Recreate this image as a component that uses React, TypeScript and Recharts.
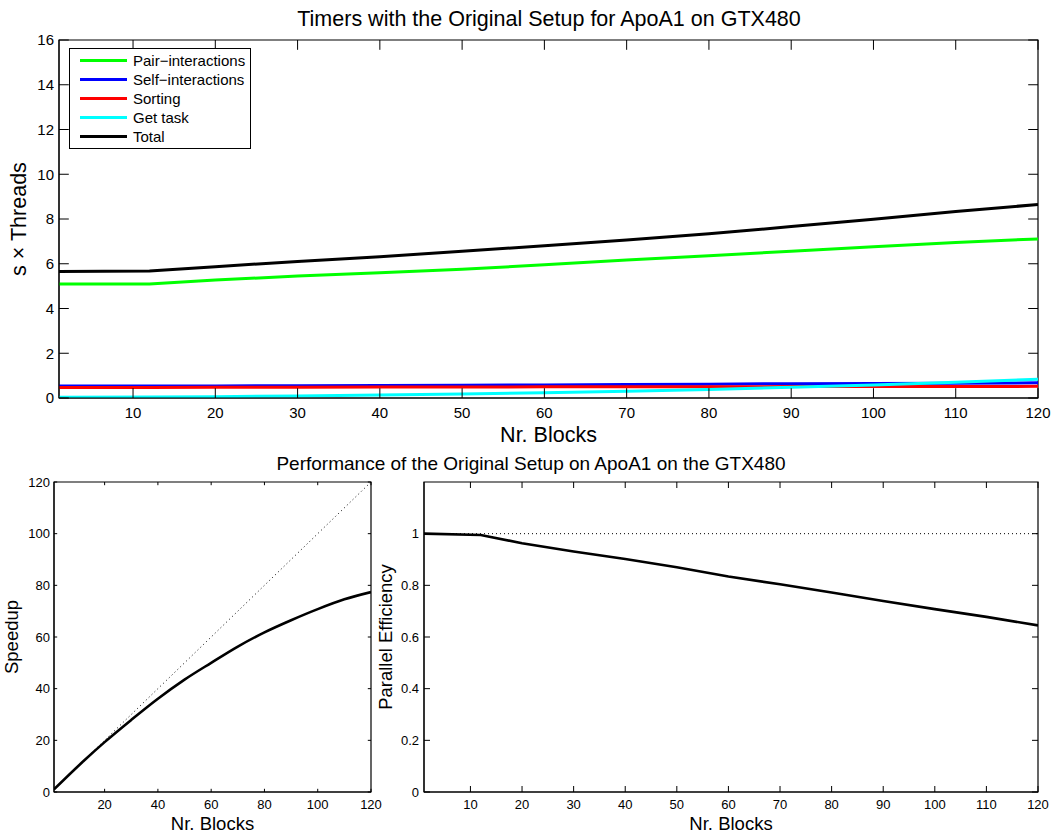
import React from "react";
import { LineChart, Line, XAxis, YAxis, Legend, ReferenceArea } from "recharts";

const FONT = '"Liberation Sans", Arial, Helvetica, sans-serif';

// block counts at which the timers were read
const blocks = [1, 12, 20, 30, 40, 50, 60, 70, 80, 90, 100, 110, 120];

// top panel: s x Threads
const seriesNames = ["Pair−interactions", "Self−interactions", "Sorting", "Get task", "Total"];
const pairInteractions = [5.1, 5.1, 5.27, 5.45, 5.6, 5.75, 5.95, 6.17, 6.36, 6.56, 6.76, 6.95, 7.11];
const selfInteractions = [0.54, 0.54, 0.54, 0.55, 0.56, 0.57, 0.58, 0.6, 0.62, 0.64, 0.65, 0.66, 0.68];
const sorting = [0.47, 0.47, 0.48, 0.48, 0.49, 0.49, 0.5, 0.5, 0.5, 0.51, 0.51, 0.51, 0.52];
const getTask = [0.03, 0.04, 0.06, 0.09, 0.13, 0.18, 0.23, 0.3, 0.38, 0.48, 0.58, 0.7, 0.84];
const total = [5.65, 5.68, 5.87, 6.1, 6.31, 6.56, 6.8, 7.06, 7.34, 7.66, 7.99, 8.33, 8.65];

// bottom panels
const speedup = [1, 11.9, 19.3, 27.9, 36.1, 43.5, 50.0, 56.3, 61.8, 66.5, 70.8, 74.6, 77.4];
const efficiency = [1.0, 0.995, 0.963, 0.931, 0.902, 0.87, 0.834, 0.804, 0.772, 0.739, 0.708, 0.678, 0.645];

// ideal references (dotted)
const idealBlocks = [1, 120];
const idealSpeedup = [1, 120];
const idealEfficiency = [1, 1];

// tick labels
const topXTicks = [10, 20, 30, 40, 50, 60, 70, 80, 90, 100, 110, 120];
const topYTicks = [0, 2, 4, 6, 8, 10, 12, 14, 16];
const speedXTicks = [20, 40, 60, 80, 100, 120];
const speedYTicks = [0, 20, 40, 60, 80, 100, 120];
const effXTicks = [10, 20, 30, 40, 50, 60, 70, 80, 90, 100, 110, 120];
const effYTicks = [0, 0.2, 0.4, 0.6, 0.8, 1];

const timerRows = blocks.map((b, i) => ({
  b,
  pair: pairInteractions[i],
  self: selfInteractions[i],
  sort: sorting[i],
  get: getTask[i],
  total: total[i],
}));
const perfRows = blocks.map((b, i) => ({ b, speedup: speedup[i], eff: efficiency[i] }));
const idealRows = idealBlocks.map((b, i) => ({ b, speedup: idealSpeedup[i], eff: idealEfficiency[i] }));

// MATLAB style: ticks point inward, on both sides of the box
function bottomTick(gap: number, len: number, far: number, size: number) {
  return (p: any) => {
    const ay = p.y - gap;
    return (
      <g>
        <line x1={p.x} x2={p.x} y1={ay} y2={ay - len} stroke="#000" />
        <line x1={p.x} x2={p.x} y1={far} y2={far + len} stroke="#000" />
        <text x={p.x} y={p.y} dy="0.71em" textAnchor="middle" fontSize={size} fontFamily={FONT} fill="#000">
          {String(p.payload.value)}
        </text>
      </g>
    );
  };
}

function leftTick(gap: number, len: number, far: number, size: number) {
  return (p: any) => {
    const ax = p.x + gap;
    return (
      <g>
        <line x1={ax} x2={ax + len} y1={p.y} y2={p.y} stroke="#000" />
        <line x1={far} x2={far - len} y1={p.y} y2={p.y} stroke="#000" />
        <text x={p.x} y={p.y} dy="0.355em" textAnchor="end" fontSize={size} fontFamily={FONT} fill="#000">
          {String(p.payload.value)}
        </text>
      </g>
    );
  };
}

const TimerLegend = (props: any) => {
  const items = [...(props.payload || [])].sort(
    (a: any, b: any) => seriesNames.indexOf(a.value) - seriesNames.indexOf(b.value)
  );
  return (
    <div
      style={{
        width: 180,
        border: "1px solid #000",
        background: "#fff",
        padding: "2px 0",
        fontFamily: FONT,
        fontSize: 15,
        color: "#000",
      }}
    >
      {items.map((e: any) => (
        <div key={e.value} style={{ display: "flex", alignItems: "center", height: 19 }}>
          <div style={{ width: 47, height: 3, background: e.color, marginLeft: 10, marginRight: 6 }} />
          <span style={{ lineHeight: "19px", whiteSpace: "nowrap" }}>{e.value}</span>
        </div>
      ))}
    </div>
  );
};

const labelStyle = (size: number) => ({ fill: "#000", fontSize: size, fontFamily: FONT });

export default function App() {
  return (
    <div style={{ position: "absolute", left: 0, top: 0, width: 1059, height: 834, background: "#fff", fontFamily: FONT }}>
      <div
        style={{
          position: "absolute",
          left: 549,
          top: 8.5,
          transform: "translateX(-50%)",
          whiteSpace: "nowrap",
          fontSize: 21.5,
          lineHeight: "21.5px",
          color: "#000",
        }}
      >
        Timers with the Original Setup for ApoA1 on GTX480
      </div>
      <div
        style={{
          position: "absolute",
          left: 531,
          top: 454,
          transform: "translateX(-50%)",
          whiteSpace: "nowrap",
          fontSize: 19,
          lineHeight: "19px",
          color: "#000",
        }}
      >
        Performance of the Original Setup on ApoA1 on the GTX480
      </div>

      {/* top panel */}
      <div style={{ position: "absolute", left: 0, top: 0 }}>
        <LineChart width={1059} height={450} data={timerRows} margin={{ top: 40, right: 21, bottom: 0, left: 0 }}>
          <XAxis
            dataKey="b"
            type="number"
            domain={[1, 120]}
            ticks={topXTicks}
            interval={0}
            allowDataOverflow
            height={52}
            tickSize={0}
            tickMargin={9}
            tickLine={false}
            axisLine={{ stroke: "#000" }}
            tick={bottomTick(9, 9.8, 40, 15)}
            label={{ value: "Nr. Blocks", position: "insideBottom", offset: 8.5, ...labelStyle(21.5) }}
          />
          <YAxis
            type="number"
            domain={[0, 16]}
            ticks={topYTicks}
            interval={0}
            allowDataOverflow
            width={59}
            tickSize={0}
            tickMargin={5}
            tickLine={false}
            axisLine={{ stroke: "#000" }}
            tick={leftTick(5, 9.8, 1038, 15)}
            label={{
              value: "s × Threads",
              angle: -90,
              position: "insideLeft",
              offset: 18,
              style: { textAnchor: "middle" },
              ...labelStyle(21.5),
            }}
          />
          <ReferenceArea x1={1} x2={120} y1={0} y2={16} fill="none" stroke="#000" strokeWidth={1.2} ifOverflow="visible" />
          <Line name={seriesNames[0]} dataKey="pair" stroke="#00ff00" strokeWidth={3} dot={false} isAnimationActive={false} />
          <Line name={seriesNames[1]} dataKey="self" stroke="#0000ff" strokeWidth={3} dot={false} isAnimationActive={false} />
          <Line name={seriesNames[2]} dataKey="sort" stroke="#ff0000" strokeWidth={3} dot={false} isAnimationActive={false} />
          <Line name={seriesNames[3]} dataKey="get" stroke="#00ffff" strokeWidth={3} dot={false} isAnimationActive={false} />
          <Line name={seriesNames[4]} dataKey="total" stroke="#000000" strokeWidth={3} dot={false} isAnimationActive={false} />
          <Legend
            layout="vertical"
            align="center"
            verticalAlign="middle"
            content={<TimerLegend />}
            wrapperStyle={{ left: 69, top: 48, width: "auto", height: "auto" }}
          />
        </LineChart>
      </div>

      {/* speedup */}
      <div style={{ position: "absolute", left: 0, top: 440 }}>
        <LineChart width={395} height={394} data={perfRows} margin={{ top: 42, right: 24, bottom: 0, left: 0 }}>
          <XAxis
            dataKey="b"
            type="number"
            domain={[1, 120]}
            ticks={speedXTicks}
            interval={0}
            allowDataOverflow
            height={42}
            tickSize={0}
            tickMargin={7.5}
            tickLine={false}
            axisLine={{ stroke: "#000" }}
            tick={bottomTick(7.5, 3.2, 42, 13)}
            label={{ value: "Nr. Blocks", position: "insideBottom", offset: 4, ...labelStyle(18.5) }}
          />
          <YAxis
            type="number"
            domain={[0, 120]}
            ticks={speedYTicks}
            interval={0}
            allowDataOverflow
            width={54}
            tickSize={0}
            tickMargin={4}
            tickLine={false}
            axisLine={{ stroke: "#000" }}
            tick={leftTick(4, 3.2, 371, 13)}
            label={{
              value: "Speedup",
              angle: -90,
              position: "insideLeft",
              offset: 11,
              style: { textAnchor: "middle" },
              ...labelStyle(18.5),
            }}
          />
          <ReferenceArea x1={1} x2={120} y1={0} y2={120} fill="none" stroke="#000" strokeWidth={1.2} ifOverflow="visible" />
          <Line data={idealRows} dataKey="speedup" stroke="#000" strokeWidth={1} strokeDasharray="1 3" dot={false} isAnimationActive={false} />
          <Line type="monotone" dataKey="speedup" stroke="#000" strokeWidth={2.6} dot={false} isAnimationActive={false} />
        </LineChart>
      </div>

      {/* parallel efficiency */}
      <div style={{ position: "absolute", left: 375, top: 440 }}>
        <LineChart width={684} height={394} data={perfRows} margin={{ top: 42, right: 21, bottom: 0, left: 0 }}>
          <XAxis
            dataKey="b"
            type="number"
            domain={[1, 120]}
            ticks={effXTicks}
            interval={0}
            allowDataOverflow
            height={42}
            tickSize={0}
            tickMargin={7.5}
            tickLine={false}
            axisLine={{ stroke: "#000" }}
            tick={bottomTick(7.5, 6, 42, 13)}
            label={{ value: "Nr. Blocks", position: "insideBottom", offset: 4, ...labelStyle(18.5) }}
          />
          <YAxis
            type="number"
            domain={[0, 1.2]}
            ticks={effYTicks}
            interval={0}
            allowDataOverflow
            width={49}
            tickSize={0}
            tickMargin={5}
            tickLine={false}
            axisLine={{ stroke: "#000" }}
            tick={leftTick(5, 6, 663, 13)}
            label={{
              value: "Parallel Efficiency",
              angle: -90,
              position: "insideLeft",
              offset: 10,
              style: { textAnchor: "middle" },
              ...labelStyle(18.5),
            }}
          />
          <ReferenceArea x1={1} x2={120} y1={0} y2={1.2} fill="none" stroke="#000" strokeWidth={1.2} ifOverflow="visible" />
          <Line data={idealRows} dataKey="eff" stroke="#000" strokeWidth={1} strokeDasharray="1 3" dot={false} isAnimationActive={false} />
          <Line dataKey="eff" stroke="#000" strokeWidth={2.6} dot={false} isAnimationActive={false} />
        </LineChart>
      </div>
    </div>
  );
}
